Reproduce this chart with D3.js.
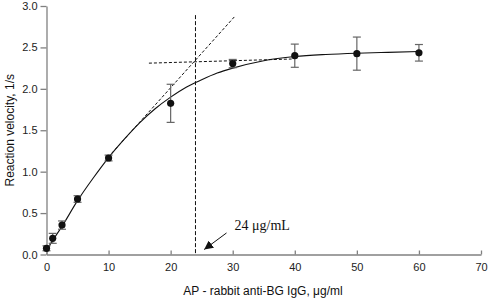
<!DOCTYPE html>
<html>
<head>
<meta charset="utf-8">
<script src="https://cdn.jsdelivr.net/npm/d3@7"></script>
<style>
  body { margin: 0; background: #fff; }
  svg text { font-family: "Liberation Sans", Arial, sans-serif; }
</style>
</head>
<body>
<div id="chart"></div>
<script>
  // measured points
  var conc = [0, 1, 2.5, 5, 10, 20, 30, 40, 50, 60];
  var velocity = [0.075, 0.195, 0.355, 0.67, 1.165, 1.825, 2.305, 2.4, 2.425, 2.435];
  var errors = [0.03, 0.06, 0.05, 0.04, 0.035, 0.23, 0.05, 0.14, 0.2, 0.1];

  // fitted curve
  var fitX = [0, 1, 2.5, 5, 7.5, 10, 12.5, 15, 17.5, 20, 22.5, 25, 27.5, 30, 35, 40, 45, 50, 55, 60];
  var fitY = [0.05, 0.17, 0.34, 0.65, 0.92, 1.17, 1.39, 1.59, 1.76, 1.9, 2.02, 2.11, 2.19, 2.25, 2.34, 2.39, 2.415, 2.43, 2.44, 2.45];

  // construction lines
  var slopeLine = [[10, 1.18], [30.4, 2.88]];
  var plateauLine = [[16.5, 2.31], [39.5, 2.36]];
  var crossX = 24;
  var crossTop = 2.89;

  var xTicks = [0, 10, 20, 30, 40, 50, 60, 70];
  var yTicks = [0, 0.5, 1, 1.5, 2, 2.5, 3];

  var width = 490, height = 300;
  var margin = { top: 6, right: 9, bottom: 45.5, left: 46.5 };
  var iw = width - margin.left - margin.right;
  var ih = height - margin.top - margin.bottom;

  var x = d3.scaleLinear().domain([0, 70]).range([0, iw]);
  var y = d3.scaleLinear().domain([0, 3]).range([ih, 0]);

  var svg = d3.select('#chart').append('svg').attr('width', width).attr('height', height);
  var g = svg.append('g').attr('transform', 'translate(' + margin.left + ',' + margin.top + ')');

  var axisColor = '#808080';

  // Axes
  var xa = g.append('g').attr('transform', 'translate(0,' + ih + ')')
    .call(d3.axisBottom(x).tickValues(xTicks).tickSizeInner(-4).tickSizeOuter(0).tickPadding(9));
  var ya = g.append('g')
    .call(d3.axisLeft(y).tickValues(yTicks).tickSizeInner(6).tickSizeOuter(0).tickFormat(d3.format('.1f')));
  [xa, ya].forEach(function (a) {
    a.selectAll('.domain, .tick line').attr('stroke', axisColor).attr('stroke-width', 1.3);
    a.selectAll('text').attr('fill', '#222').attr('font-size', '11px');
  });

  // Construction lines
  var line = d3.line().x(function (d) { return x(d[0]); }).y(function (d) { return y(d[1]); });
  g.append('path').datum(slopeLine).attr('d', line).attr('fill', 'none')
    .attr('stroke', '#111').attr('stroke-width', 1).attr('stroke-dasharray', '3,2');
  g.append('path').datum(plateauLine).attr('d', line).attr('fill', 'none')
    .attr('stroke', '#111').attr('stroke-width', 1).attr('stroke-dasharray', '3,2');
  g.append('line').attr('x1', x(crossX)).attr('x2', x(crossX)).attr('y1', y(crossTop)).attr('y2', ih)
    .attr('stroke', '#111').attr('stroke-width', 1).attr('stroke-dasharray', '4,2');

  // Fit curve
  var fit = fitX.map(function (v, i) { return [v, fitY[i]]; });
  g.append('path').datum(fit).attr('d', line.curve(d3.curveMonotoneX)).attr('fill', 'none')
    .attr('stroke', '#111').attr('stroke-width', 1.1);

  // Error bars
  conc.forEach(function (c, i) {
    var cx = x(c), top = y(velocity[i] + errors[i]), bot = y(velocity[i] - errors[i]);
    g.append('line').attr('x1', cx).attr('x2', cx).attr('y1', top).attr('y2', bot)
      .attr('stroke', '#666').attr('stroke-width', 1.2);
    [top, bot].forEach(function (yy) {
      g.append('line').attr('x1', cx - 4).attr('x2', cx + 4).attr('y1', yy).attr('y2', yy)
        .attr('stroke', '#666').attr('stroke-width', 1.2);
    });
  });

  // Points
  g.selectAll('circle.pt').data(conc).enter().append('circle')
    .attr('cx', function (d) { return x(d); })
    .attr('cy', function (d, i) { return y(velocity[i]); })
    .attr('r', 3.6).attr('fill', '#111');

  // Annotation
  svg.append('defs').append('marker').attr('id', 'arr').attr('viewBox', '0 0 10 10')
    .attr('refX', 10).attr('refY', 5).attr('markerWidth', 9).attr('markerHeight', 9)
    .attr('markerUnits', 'userSpaceOnUse').attr('orient', 'auto')
    .append('path').attr('d', 'M0,0 L10,5 L0,10 z').attr('fill', '#111');
  g.append('line').attr('x1', x(29)).attr('y1', y(0.26)).attr('x2', x(25.4)).attr('y2', y(0.06))
    .attr('stroke', '#111').attr('stroke-width', 1).attr('marker-end', 'url(#arr)');
  g.append('text').attr('x', x(30.3)).attr('y', y(0.3))
    .style('font-family', '"Liberation Serif", "Times New Roman", serif')
    .attr('font-size', '14px').attr('fill', '#111').text('24 \u03bcg/mL');

  // Axis titles
  svg.append('text').attr('x', 263).attr('y', 295)
    .attr('text-anchor', 'middle').attr('font-size', '12px').attr('fill', '#111')
    .text('AP - rabbit anti-BG IgG, \u03bcg/ml');
  svg.append('text').attr('transform', 'translate(14,' + (margin.top + y(1.5)) + ') rotate(-90)')
    .attr('text-anchor', 'middle').attr('font-size', '12px').attr('fill', '#111')
    .text('Reaction velocity, 1/s');
</script>
</body>
</html>
